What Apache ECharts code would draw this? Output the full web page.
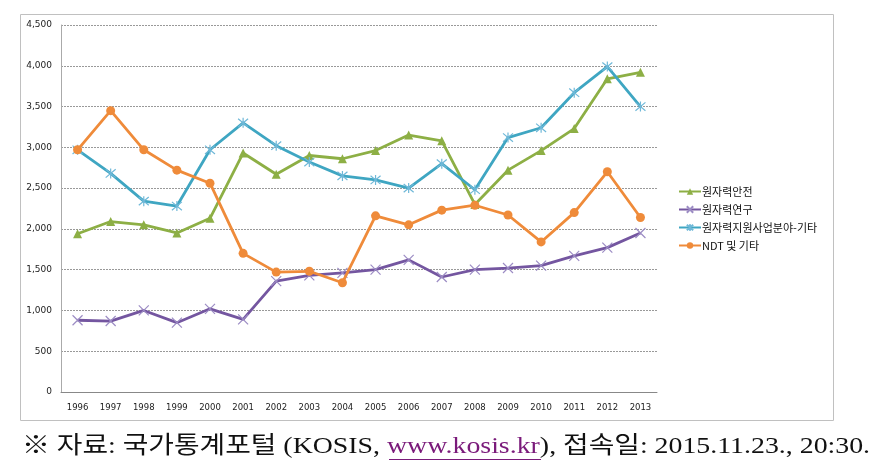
<!DOCTYPE html>
<html><head><meta charset="utf-8">
<script src="https://cdn.jsdelivr.net/npm/echarts@6/dist/echarts.min.js"></script>
<style>html,body{margin:0;padding:0;background:#fff}#c{width:882px;height:475px}</style>
</head><body><div id="c"></div>
<script>
var years = ['1996','1997','1998','1999','2000','2001','2002','2003','2004','2005','2006','2007','2008','2009','2010','2011','2012','2013'];
var safety = [1940,2090,2050,1950,2130,2930,2670,2900,2860,2960,3150,3080,2300,2720,2960,3230,3840,3920];
var research = [880,870,1000,850,1020,890,1360,1430,1460,1500,1620,1410,1500,1520,1550,1670,1770,1950];
var support = [2970,2680,2340,2280,2970,3300,3020,2820,2650,2600,2500,2800,2480,3120,3240,3670,3990,3500];
var ndt = [2970,3450,2970,2720,2560,1700,1470,1480,1340,2160,2050,2230,2290,2170,1840,2200,2700,2140];
var names = ['원자력안전','원자력연구','원자력지원사업분야-기타','NDT 및 기타'];
var yTicks = [0,500,1000,1500,2000,2500,3000,3500,4000,4500];
var caption = ['※ 자료: 국가통계포털 (KOSIS, ', 'www.kosis.kr', '), 접속일: 2015.11.23., 20:30.'];

var colors = ['#8DAF45','#7456A0','#3FA6C2','#EF8B3A'];
var xSym = 'path://M0,0L10,10M10,0L0,10';
var starSym = 'path://M0,0L10,10M10,0L0,10M5,-1L5,11';

function mk(i, data, symbol, size, stroke) {
  return {
    name: names[i], type: 'line', data: data, symbol: symbol, symbolSize: size,
    lineStyle: {color: colors[i], width: 2.8},
    itemStyle: stroke ? {color: 'transparent', borderColor: stroke, borderWidth: 1.2} : {color: colors[i]},
    emphasis: {disabled: true}, z: 2 + i
  };
}

var chart = echarts.init(document.getElementById('c'), null, {renderer: 'canvas'});
chart.setOption({
  animation: false,
  color: colors,
  grid: {left: 61, right: 225, top: 25, bottom: 83, containLabel: false},
  legend: {
    orient: 'vertical', left: 673, top: 181, itemGap: 7, itemWidth: 22, itemHeight: 8,
    textStyle: {fontSize: 11, color: '#111', fontFamily: 'Noto Sans CJK KR', padding: [0,0,0,-4]},
    data: names
  },
  xAxis: {
    type: 'category', data: years, boundaryGap: true,
    axisLine: {lineStyle: {color: '#888', width: 1}},
    axisTick: {show: false},
    axisLabel: {fontSize: 8.5, color: '#222', margin: 11, fontFamily: 'DejaVu Sans', interval: 0}
  },
  yAxis: {
    type: 'value', min: 0, max: 4500, interval: 500,
    axisLine: {show: true, lineStyle: {color: '#aaa'}},
    axisTick: {show: false},
    splitLine: {lineStyle: {color: '#999', type: [2,1], width: 1}},
    axisLabel: {fontSize: 9, color: '#222', margin: 9, fontFamily: 'DejaVu Sans',
      formatter: function (v) { return yTicks.indexOf(v) >= 0 ? v.toLocaleString('en-US') : ''; }}
  },
  series: [
    mk(0, safety, 'triangle', 9),
    mk(1, research, xSym, 10, '#9C8CC4'),
    mk(2, support, starSym, 10, '#6FB8D8'),
    mk(3, ndt, 'circle', 9)
  ],
  graphic: [
    {type: 'rect', shape: {x: 20.5, y: 14.5, width: 813, height: 406}, style: {fill: 'none', stroke: '#c0c0c0', lineWidth: 1}, silent: true, z: -1},
    {type: 'text', x: 22, y: 447, scaleX: 1.16, silent: true, style: {
      text: '{a|' + caption[0] + '}{u|' + caption[1] + '}{a|' + caption[2] + '}',
      verticalAlign: 'middle', align: 'left',
      rich: {
        a: {fontSize: 24, fontFamily: 'Liberation Serif, Noto Sans CJK KR', fill: '#111'},
        u: {fontSize: 24, fontFamily: 'Liberation Serif', fill: '#7A1A7A'}
      }
    }},
    {type: 'line', shape: {x1: 389, y1: 459.5, x2: 541, y2: 459.5}, style: {stroke: '#7A1A7A', lineWidth: 1}, silent: true}
  ]
});
</script></body></html>
